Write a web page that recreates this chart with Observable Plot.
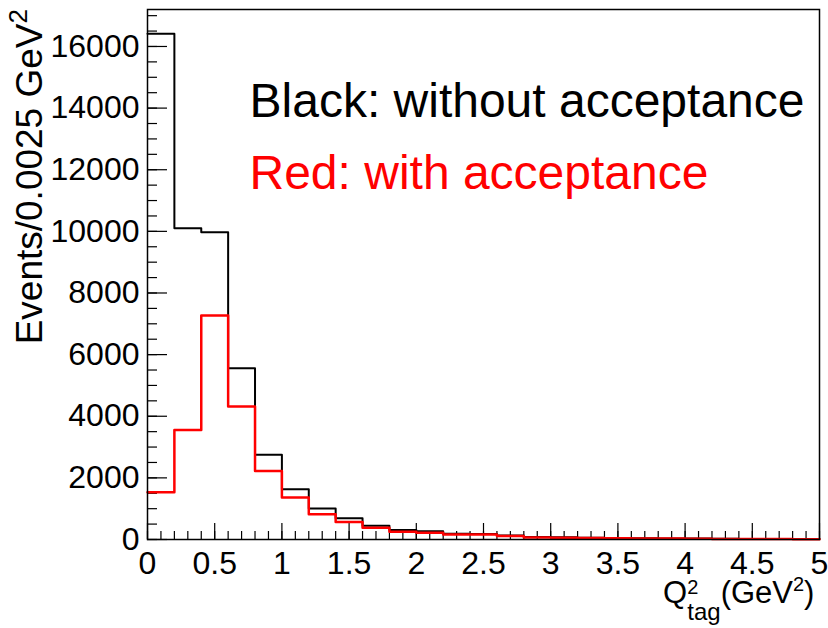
<!DOCTYPE html>
<html><head><meta charset="utf-8">
<script src="https://cdn.jsdelivr.net/npm/d3@7"></script>
<script src="https://cdn.jsdelivr.net/npm/@observablehq/plot@0.6"></script>
<style>
body{margin:0;background:#fff}
svg text{font-family:"Liberation Sans", Arial, Helvetica, sans-serif}
</style>
</head><body><div id="chart"></div>
<script>
// Bin lower edges (GeV^2), last bin ends at 5
const binLow = [0,0.2,0.4,0.6,0.8,1.0,1.2,1.4,1.6,1.8,2.0,2.2,2.4,2.6,2.8,3.0,3.2,3.4,3.6,3.8,4.0,4.2,4.4,4.6,4.8];
const binEnd = 5;
// Black: without acceptance
const withoutAcceptance = [16410,10100,9970,5560,2750,1630,1010,690,450,310,270,190,180,130,80,70,60,50,40,35,30,25,20,20,15];
// Red: with acceptance
const withAcceptance = [1535,3550,7270,4320,2220,1360,820,570,380,250,220,165,160,115,65,60,50,40,35,30,25,20,15,15,12];

const xMajorTicks = [0,0.5,1,1.5,2,2.5,3,3.5,4,4.5,5];
const xTickLabels = ["0","0.5","1","1.5","2","2.5","3","3.5","4","4.5","5"];
const xMinorTicks = d3.range(0, 50.5, 1).map(d => d / 10);
const yMajorTicks = [0,2000,4000,6000,8000,10000,12000,14000,16000];
const yTickLabels = ["0","2000","4000","6000","8000","10000","12000","14000","16000"];
const yMinorTicks = d3.range(0, 17001, 500);
const legendLines = ["Black: without acceptance", "Red: with acceptance"];
const yTitle = ["Events/0.0025 GeV", "2"];
const xTitle = ["Q", "2", "tag", "(GeV", "2", ")"];

const W = 828, H = 628, mL = 147, mR = 9, mT = 9, mB = 89;
const frameW = W - mL - mR, frameH = H - mT - mB;

function steps(values) {
  const pts = values.map((v, i) => ({x: binLow[i], y: v}));
  pts.push({x: binEnd, y: values[values.length - 1]});
  return pts;
}

const svg = Plot.plot({
  width: W, height: H,
  marginLeft: mL, marginRight: mR, marginTop: mT, marginBottom: mB,
  x: {domain: [0, 5]},
  y: {domain: [0, 17200]},
  style: {background: "white", color: "black", fontFamily: '"Liberation Sans", Arial, sans-serif'},
  marks: [
    Plot.tickX(xMinorTicks, {x: d => d, stroke: "black", strokeWidth: 1.2, insetTop: frameH - 8}),
    Plot.tickX(xMajorTicks, {x: d => d, stroke: "black", strokeWidth: 1.2, insetTop: frameH - 16}),
    Plot.tickY(yMinorTicks, {y: d => d, stroke: "black", strokeWidth: 1.2, insetRight: frameW - 10}),
    Plot.tickY(yMajorTicks, {y: d => d, stroke: "black", strokeWidth: 1.2, insetRight: frameW - 20}),
    Plot.axisX(xMajorTicks, {tickSize: 0, tickPadding: 12, fontSize: 32, label: null,
      tickFormat: d => xTickLabels[xMajorTicks.indexOf(d)]}),
    Plot.axisY(yMajorTicks, {tickSize: 0, tickPadding: 8, fontSize: 32, label: null,
      tickFormat: d => yTickLabels[yMajorTicks.indexOf(d)]}),
    Plot.line(steps(withoutAcceptance), {x: "x", y: "y", curve: "step-after", stroke: "black", strokeWidth: 2}),
    Plot.line(steps(withAcceptance), {x: "x", y: "y", curve: "step-after", stroke: "#ff0000", strokeWidth: 2.5}),
    Plot.text([legendLines[0]], {text: d => d, frameAnchor: "top-left", dx: 102, dy: 107.7,
      lineAnchor: "bottom", textAnchor: "start", fontSize: 48, fill: "black"}),
    Plot.text([legendLines[1]], {text: d => d, frameAnchor: "top-left", dx: 102, dy: 179.3,
      lineAnchor: "bottom", textAnchor: "start", fontSize: 48, fill: "#ff0000"}),
    Plot.frame({stroke: "black", strokeWidth: 1.5})
  ]
});

const s = d3.select(svg);
// Y axis title (rotated, right-aligned to the top of the axis)
const yt = s.append("text")
  .attr("transform", `translate(42,${mT}) rotate(-90)`)
  .attr("text-anchor", "end")
  .attr("font-size", 37)
  .attr("fill", "black");
yt.append("tspan").text(yTitle[0]);
yt.append("tspan").attr("dy", -15).attr("font-size", 26).text(yTitle[1]);

// X axis title with sub/superscripts
const xt = s.append("text")
  .attr("x", 663).attr("y", 603)
  .attr("text-anchor", "start")
  .attr("font-size", 31)
  .attr("fill", "black");
xt.append("tspan").text(xTitle[0]);
xt.append("tspan").attr("dy", -9).attr("font-size", 20).text(xTitle[1]);
xt.append("tspan").attr("dx", -11).attr("dy", 26).attr("font-size", 24).text(xTitle[2]);
xt.append("tspan").attr("dy", -17).text(xTitle[3]);
xt.append("tspan").attr("dy", -12).attr("font-size", 20).text(xTitle[4]);
xt.append("tspan").attr("dy", 12).text(xTitle[5]);

document.getElementById("chart").appendChild(svg);
</script>
</body></html>
